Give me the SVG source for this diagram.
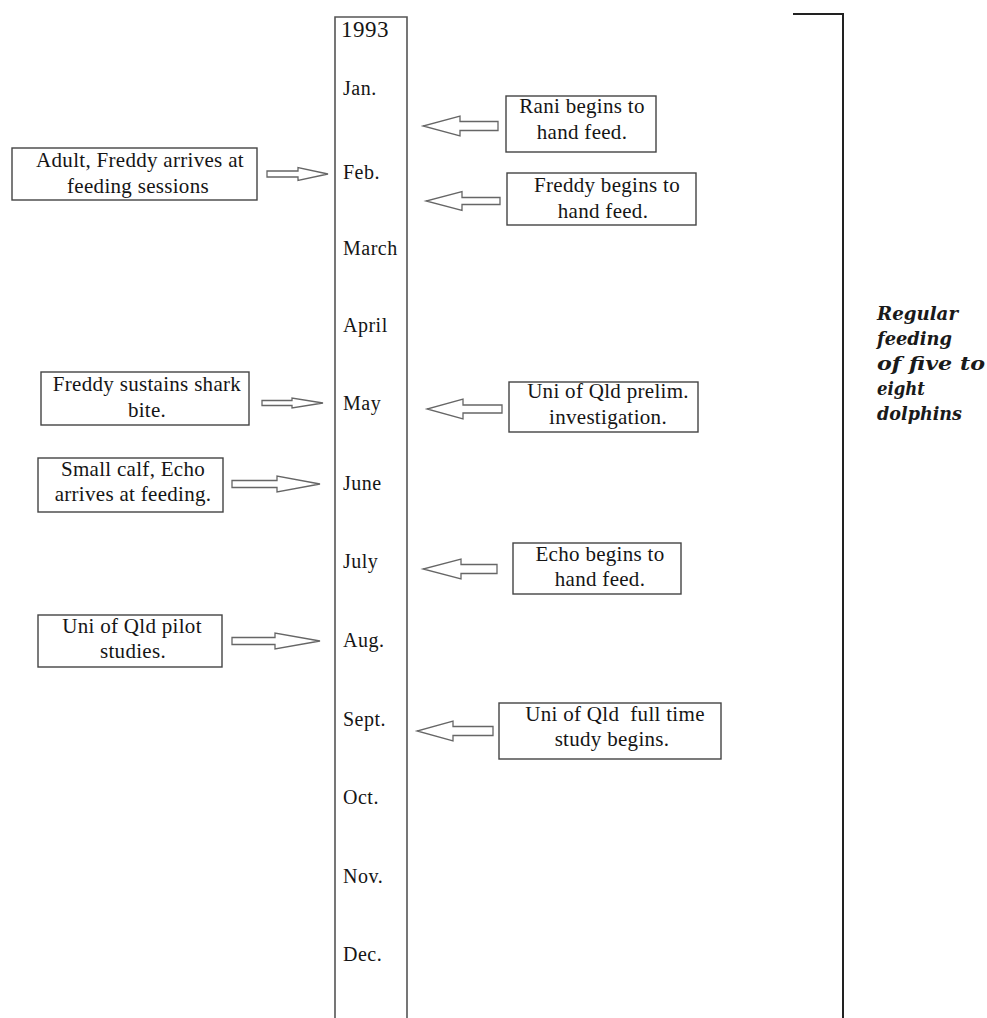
<svg xmlns="http://www.w3.org/2000/svg" width="987" height="1018" viewBox="0 0 987 1018">
<style>
.bg{fill:#fff}
.box{fill:#fff;stroke:#444;stroke-width:1.4}
.t{font-family:"Liberation Serif","Times New Roman",serif;font-size:21px;fill:#151515;letter-spacing:0.3px;text-anchor:middle}
.m{font-family:"Liberation Serif","Times New Roman",serif;font-size:20px;fill:#151515;letter-spacing:0.5px}
.yr{font-family:"Liberation Serif","Times New Roman",serif;font-size:23px;fill:#151515;letter-spacing:0.5px}
.arr{fill:#fff;stroke:#666;stroke-width:1.3;stroke-linejoin:miter}
.line{fill:none;stroke:#555;stroke-width:1.6}
.br{fill:none;stroke:#222;stroke-width:2}
.note{font-family:"DejaVu Serif","Liberation Serif",serif;font-size:18px;font-weight:bold;font-style:italic;fill:#1a1a1a}
</style>
<rect class="bg" x="0" y="0" width="987" height="1018"/>

<g id="timeline">
  <path class="line" d="M335,1018 V17 H407 V1018"/>
  <text class="yr" x="341" y="37">1993</text>
  <text class="m" x="343" y="95">Jan.</text>
  <text class="m" x="343" y="179">Feb.</text>
  <text class="m" x="343" y="255">March</text>
  <text class="m" x="343" y="332">April</text>
  <text class="m" x="343" y="410">May</text>
  <text class="m" x="343" y="490">June</text>
  <text class="m" x="343" y="568">July</text>
  <text class="m" x="343" y="647">Aug.</text>
  <text class="m" x="343" y="726">Sept.</text>
  <text class="m" x="343" y="804">Oct.</text>
  <text class="m" x="343" y="883">Nov.</text>
  <text class="m" x="343" y="961">Dec.</text>
</g>

<g id="bracket">
  <path class="br" d="M793,14 H843 V1018"/>
  <text class="note" x="877" y="320" textLength="81" lengthAdjust="spacingAndGlyphs">Regular</text>
  <text class="note" x="877" y="345" textLength="75" lengthAdjust="spacingAndGlyphs">feeding</text>
  <text class="note" x="877" y="370" textLength="108" lengthAdjust="spacingAndGlyphs">of five to</text>
  <text class="note" x="877" y="395" textLength="48" lengthAdjust="spacingAndGlyphs">eight</text>
  <text class="note" x="877" y="420" textLength="85" lengthAdjust="spacingAndGlyphs">dolphins</text>
</g>

<g id="n-freddy-arrives">
  <rect class="box" x="12" y="148" width="245" height="52"/>
  <text class="t" x="140" y="167">Adult, Freddy arrives at</text>
  <text class="t" x="138" y="193">feeding sessions</text>
</g>
<g id="n-rani">
  <rect class="box" x="506" y="96" width="150" height="56"/>
  <text class="t" x="582" y="113">Rani begins to</text>
  <text class="t" x="582" y="139">hand feed.</text>
</g>
<g id="n-freddy-feeds">
  <rect class="box" x="507" y="173" width="189" height="52"/>
  <text class="t" x="607" y="192">Freddy begins to</text>
  <text class="t" x="603" y="218">hand feed.</text>
</g>
<g id="n-shark">
  <rect class="box" x="41" y="372" width="208" height="53"/>
  <text class="t" x="147" y="391">Freddy sustains shark</text>
  <text class="t" x="147" y="417">bite.</text>
</g>
<g id="n-prelim">
  <rect class="box" x="509" y="382" width="189" height="50"/>
  <text class="t" x="608" y="398">Uni of Qld prelim.</text>
  <text class="t" x="608" y="424">investigation.</text>
</g>
<g id="n-echo-arrives">
  <rect class="box" x="38" y="458" width="185" height="54"/>
  <text class="t" x="133" y="476">Small calf, Echo</text>
  <text class="t" x="133" y="501">arrives at feeding.</text>
</g>
<g id="n-echo-feeds">
  <rect class="box" x="513" y="543" width="168" height="51"/>
  <text class="t" x="600" y="561">Echo begins to</text>
  <text class="t" x="600" y="586">hand feed.</text>
</g>
<g id="n-pilot">
  <rect class="box" x="38" y="615" width="184" height="52"/>
  <text class="t" x="132" y="633">Uni of Qld pilot</text>
  <text class="t" x="133" y="658">studies.</text>
</g>
<g id="n-fulltime">
  <rect class="box" x="499" y="703" width="222" height="56"/>
  <text class="t" x="615" y="721" style="white-space:pre" xml:space="preserve">Uni of Qld  full time</text>
  <text class="t" x="612" y="746">study begins.</text>
</g>

<g id="connectors">
  <polygon class="arr" points="267,171 298,171 298,167.5 328,174 298,180.5 298,177 267,177"/>
  <polygon class="arr" points="262,400.5 292,400.5 292,398 323,403 292,408 292,405.5 262,405.5"/>
  <polygon class="arr" points="232,480.5 277,480.5 277,476 320,484 277,492 277,487.5 232,487.5"/>
  <polygon class="arr" points="232,637.5 275,637.5 275,633 320,641 275,649 275,644.5 232,644.5"/>
  <polygon class="arr" points="498,121.5 460,121.5 460,116 423,126 460,136 460,130.5 498,130.5"/>
  <polygon class="arr" points="500,197.5 462,197.5 462,191.5 426,201 462,210.5 462,204.5 500,204.5"/>
  <polygon class="arr" points="502,405 463,405 463,399 427,409 463,419 463,413 502,413"/>
  <polygon class="arr" points="497,564.5 461,564.5 461,559 423,569 461,579 461,573.5 497,573.5"/>
  <polygon class="arr" points="493,726.5 453,726.5 453,721 417,731 453,741 453,735.5 493,735.5"/>
</g>
</svg>
